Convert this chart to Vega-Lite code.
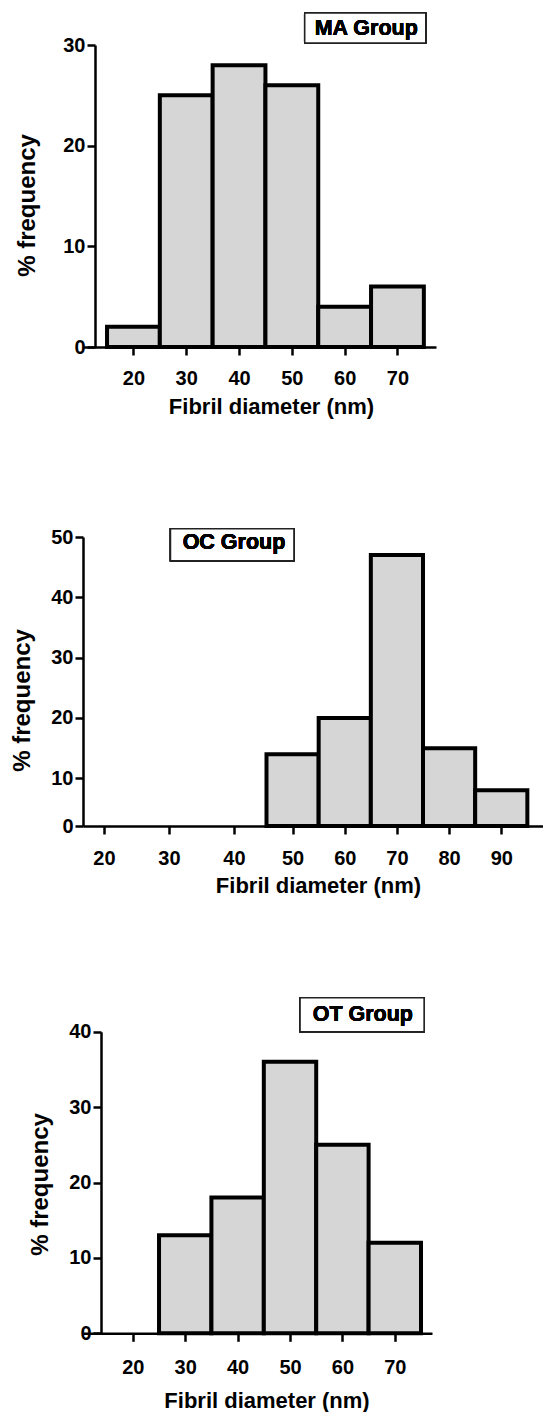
{
  "$schema": "https://vega.github.io/schema/vega-lite/v6.json",
  "background": "white",
  "padding": {"left": 10, "top": 12, "right": 0, "bottom": 0},
  "bounds": "flush",
  "spacing": 190,
  "config": {
    "view": {"stroke": null},
    "axis": {
      "grid": false,
      "domainColor": "#000",
      "domainWidth": 2.5,
      "tickColor": "#000",
      "tickWidth": 2.5,
      "tickSize": 8,
      "labelFont": "Liberation Sans",
      "labelFontWeight": "bold",
      "labelFontSize": 20,
      "labelColor": "#000",
      "labelPadding": 2,
      "labelOverlap": false,
      "labelFlush": false,
      "titleFont": "Liberation Sans",
      "titleFontWeight": "bold",
      "titleColor": "#000"
    },
    "axisX": {"titleFontSize": 22, "titleAlign": "center"},
    "axisY": {"titleFontSize": 24, "titleAlign": "center"}
  },
  "vconcat": [
    {
      "width": 353,
      "height": 302,
      "data": {"values": [
        {"start": 15, "end": 25, "freq": 2},
        {"start": 25, "end": 35, "freq": 25},
        {"start": 35, "end": 45, "freq": 28},
        {"start": 45, "end": 55, "freq": 26},
        {"start": 55, "end": 65, "freq": 4},
        {"start": 65, "end": 75, "freq": 6}
      ]},
      "layer": [
        {
          "transform": [{"filter": "datum.freq > 0"}],
          "mark": {"type": "bar", "fill": "#d6d6d6", "stroke": "#000", "strokeWidth": 4},
          "encoding": {
            "x": {"field": "start", "type": "quantitative",
              "scale": {"domain": [10.45, 77.3], "nice": false, "zero": false},
              "axis": {"title": "Fibril diameter (nm)", "values": [20, 30, 40, 50, 60, 70], "labelPadding": 13.4, "titlePadding": 8, "titleX": 188}},
            "x2": {"field": "end"},
            "y": {"field": "freq", "type": "quantitative",
              "scale": {"domain": [0, 30], "nice": false},
              "axis": {"title": "% frequency", "values": [0, 10, 20, 30], "offset": -12, "titlePadding": 23.5, "titleY": 160}},
            "y2": {"datum": 0}
          }
        },
        {
          "mark": {"type": "rect", "fill": "#fff", "stroke": "#222", "strokeWidth": 1.5},
          "encoding": {
            "x": {"datum": 52.44, "type": "quantitative"},
            "x2": {"datum": 75.36},
            "y": {"datum": 30.2, "type": "quantitative"},
            "y2": {"datum": 33.18}
          }
        },
        {
          "mark": {"type": "text", "font": "Liberation Sans", "fontWeight": "bold", "fontSize": 21.5, "baseline": "middle", "align": "center", "color": "#000"},
          "encoding": {
            "x": {"datum": 64.09, "type": "quantitative"},
            "y": {"datum": 31.56, "type": "quantitative"},
            "text": {"value": "MA Group"}
          }
        }
      ]
    },
    {
      "width": 460,
      "height": 289,
      "data": {"values": [
        {"start": 15, "end": 25, "freq": 0},
        {"start": 25, "end": 35, "freq": 0},
        {"start": 35, "end": 45, "freq": 0},
        {"start": 45, "end": 55, "freq": 14},
        {"start": 55, "end": 65, "freq": 20},
        {"start": 65, "end": 75, "freq": 47},
        {"start": 75, "end": 85, "freq": 15},
        {"start": 85, "end": 95, "freq": 7.5}
      ]},
      "layer": [
        {
          "transform": [{"filter": "datum.freq > 0"}],
          "mark": {"type": "bar", "fill": "#d6d6d6", "stroke": "#000", "strokeWidth": 4},
          "encoding": {
            "x": {"field": "start", "type": "quantitative",
              "scale": {"domain": [16.77, 45, 98.0], "range": [0, 183.5, 460], "nice": false, "zero": false},
              "axis": {"title": "Fibril diameter (nm)", "values": [20, 30, 40, 50, 60, 70, 80, 90], "labelPadding": 14.4, "titlePadding": 7, "titleX": 235}},
            "x2": {"field": "end"},
            "y": {"field": "freq", "type": "quantitative",
              "scale": {"domain": [0, 10, 50], "range": [289, 241.3, 0], "nice": false, "zero": false},
              "axis": {"title": "% frequency", "values": [0, 10, 20, 30, 40, 50], "titlePadding": 16, "titleY": 163}},
            "y2": {"datum": 0}
          }
        },
        {
          "mark": {"type": "rect", "fill": "#fff", "stroke": "#222", "strokeWidth": 1.5},
          "encoding": {
            "x": {"datum": 30.23, "type": "quantitative"},
            "x2": {"datum": 50.26},
            "y": {"datum": 46.07, "type": "quantitative"},
            "y2": {"datum": 51.38}
          }
        },
        {
          "mark": {"type": "text", "font": "Liberation Sans", "fontWeight": "bold", "fontSize": 21.5, "baseline": "middle", "align": "center", "color": "#000"},
          "encoding": {
            "x": {"datum": 40.0, "type": "quantitative"},
            "y": {"datum": 49.0, "type": "quantitative"},
            "text": {"value": "OC Group"}
          }
        }
      ]
    },
    {
      "width": 349,
      "height": 317.3,
      "data": {"values": [
        {"start": 15, "end": 25, "freq": 0},
        {"start": 25, "end": 35, "freq": 13},
        {"start": 35, "end": 45, "freq": 18},
        {"start": 45, "end": 55, "freq": 36},
        {"start": 55, "end": 65, "freq": 25},
        {"start": 65, "end": 75, "freq": 12}
      ]},
      "layer": [
        {
          "transform": [{"filter": "datum.freq > 0"}],
          "mark": {"type": "bar", "fill": "#d6d6d6", "stroke": "#000", "strokeWidth": 4},
          "encoding": {
            "x": {"field": "start", "type": "quantitative",
              "scale": {"domain": [10.49, 77.1], "nice": false, "zero": false},
              "axis": {"title": "Fibril diameter (nm)", "values": [20, 30, 40, 50, 60, 70], "labelPadding": 16.4, "titlePadding": 13, "titleX": 183.5}},
            "x2": {"field": "end"},
            "y": {"field": "freq", "type": "quantitative",
              "scale": {"domain": [0, 40], "range": [317.3, 15.7], "nice": false},
              "axis": {"title": "% frequency", "values": [0, 10, 20, 30, 40], "offset": -18, "titlePadding": 16, "titleY": 168}},
            "y2": {"datum": 0}
          }
        },
        {
          "mark": {"type": "rect", "fill": "#fff", "stroke": "#222", "strokeWidth": 1.5},
          "encoding": {
            "x": {"datum": 51.92, "type": "quantitative"},
            "x2": {"datum": 75.59},
            "y": {"datum": 40.0, "type": "quantitative"},
            "y2": {"datum": 44.5}
          }
        },
        {
          "mark": {"type": "text", "font": "Liberation Sans", "fontWeight": "bold", "fontSize": 21.5, "baseline": "middle", "align": "center", "color": "#000"},
          "encoding": {
            "x": {"datum": 63.9, "type": "quantitative"},
            "y": {"datum": 42.25, "type": "quantitative"},
            "text": {"value": "OT Group"}
          }
        }
      ]
    }
  ]
}
